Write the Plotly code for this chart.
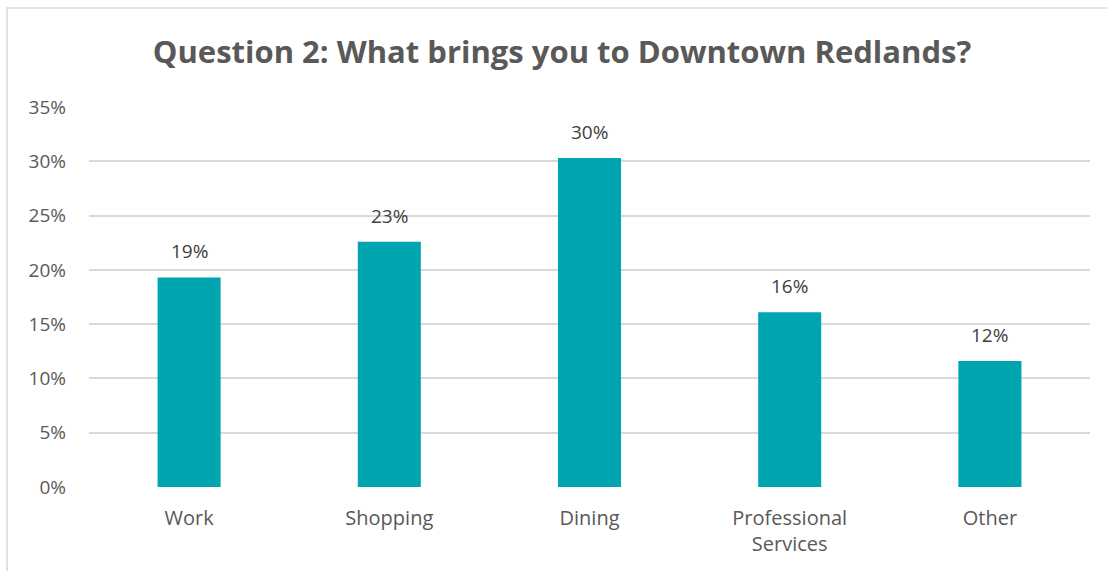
import plotly.graph_objects as go

# Survey responses: share of respondents by reason for visiting
categories = ["Work", "Shopping", "Dining", "Professional<br>Services", "Other"]
shares = [0.193, 0.226, 0.303, 0.161, 0.116]

TEAL = "#00A5B0"
GRID = "#D9D9D9"
TEXT = "#595959"
LABEL = "#404040"

W, H = 1107, 571
L, R, T, B = 89, 17, 107, 84
pw, ph = W - L - R, H - T - B

fig = go.Figure(
    go.Bar(
        x=categories,
        y=shares,
        marker=dict(color=TEAL, line=dict(width=0)),
        hoverinfo="skip",
    )
)

# Value labels floating above each bar
for cat, val in zip(categories, shares):
    fig.add_annotation(
        x=cat, y=val,
        text=f"{val:.0%}",
        showarrow=False,
        yanchor="bottom",
        yshift=11,
        font=dict(family="Open Sans", size=19, color=LABEL),
    )

# Light outer frame around the chart area
fig.add_shape(
    type="rect",
    xref="paper", yref="paper",
    x0=(7 - L) / pw, x1=(W + 20 - L) / pw,
    y0=-(B + 20) / ph, y1=(T - 8) / ph + 1,
    line=dict(color=GRID, width=1.5),
    fillcolor="rgba(0,0,0,0)",
    layer="below",
)

fig.update_layout(
    width=W,
    height=H,
    margin=dict(l=L, r=R, t=T, b=B),
    paper_bgcolor="white",
    plot_bgcolor="white",
    bargap=0.685,
    showlegend=False,
    title=dict(
        text="<b>Question 2: What brings you to Downtown Redlands?</b>",
        x=562 / W,
        xanchor="center",
        xref="container",
        y=1 - 52 / H,
        yanchor="middle",
        yref="container",
        font=dict(family="Open Sans", size=31, color=TEXT),
    ),
    font=dict(family="Open Sans", color=TEXT),
)

fig.update_yaxes(
    range=[0, 0.35],
    dtick=0.05,
    tickformat=".0%",
    showgrid=True,
    gridcolor=GRID,
    gridwidth=1.5,
    zeroline=False,
    showline=False,
    ticks="",
    ticklabelstandoff=22,
    tickfont=dict(family="Open Sans", size=19, color=TEXT),
)

fig.update_xaxes(
    showgrid=False,
    showline=False,
    ticks="",
    ticklabelstandoff=17,
    tickfont=dict(family="Open Sans", size=20, color=TEXT),
)

fig.write_html("out.html")
